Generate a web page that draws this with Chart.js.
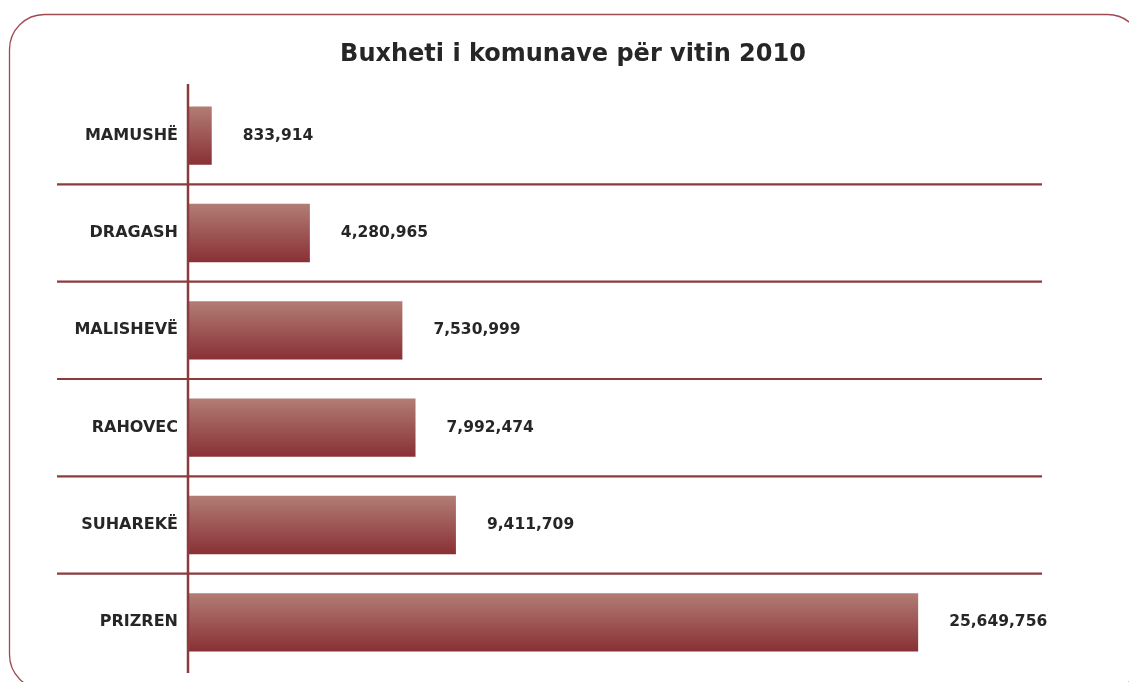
<!DOCTYPE html>
<html>
<head>
<meta charset="utf-8">
<script src="https://cdn.jsdelivr.net/npm/chart.js@4/dist/chart.umd.min.js"></script>
<style>
  html, body { margin: 0; padding: 0; background: #ffffff; overflow: hidden; }
  #wrap { width: 1129px; height: 682px; position: relative; }
</style>
</head>
<body>
<div id="wrap"><canvas id="c"></canvas></div>
<script>
const categories = ["MAMUSHË", "DRAGASH", "MALISHEVË", "RAHOVEC", "SUHAREKË", "PRIZREN"];
const budgetValues = [833914, 4280965, 7530999, 7992474, 9411709, 25649756];
const titleText = "Buxheti i komunave për vitin 2010";

const LINE_COLOR = "#8b3a3e";
const TEXT_COLOR = "#262626";
const FONT = "'DejaVu Sans', sans-serif";
const BAR_FRACTION = 0.6;

const frame = {
  id: "frame",
  beforeDraw(chart) {
    const ctx = chart.ctx;
    ctx.save();
    ctx.strokeStyle = "#9e4a50";
    ctx.lineWidth = 1.3;
    ctx.beginPath();
    ctx.roundRect(9.5, 14.5, 1133, 675, 35);
    ctx.stroke();
    // title
    ctx.fillStyle = TEXT_COLOR;
    ctx.font = "bold 24px " + FONT;
    ctx.textAlign = "center";
    ctx.textBaseline = "middle";
    ctx.fillText(titleText, 573, 55);
    ctx.restore();
  }
};

const gridLines = {
  id: "gridLines",
  afterDatasetsDraw(chart) {
    const ctx = chart.ctx;
    const area = chart.chartArea;
    const y = chart.scales.y;
    const n = categories.length;
    ctx.save();
    ctx.strokeStyle = LINE_COLOR;
    ctx.lineWidth = 2.2;
    for (let i = 0; i < n - 1; i++) {
      const py = (y.getPixelForValue(i) + y.getPixelForValue(i + 1)) / 2;
      ctx.beginPath();
      ctx.moveTo(area.left - 131, py);
      ctx.lineTo(area.right, py);
      ctx.stroke();
    }
    ctx.lineWidth = 2.5;
    ctx.beginPath();
    ctx.moveTo(area.left, area.top - 3);
    ctx.lineTo(area.left, area.bottom + 2);
    ctx.stroke();
    // value labels
    const meta = chart.getDatasetMeta(0);
    ctx.fillStyle = TEXT_COLOR;
    ctx.font = "bold 15.5px " + FONT;
    ctx.textAlign = "left";
    ctx.textBaseline = "middle";
    meta.data.forEach((bar, i) => {
      ctx.fillText(budgetValues[i].toLocaleString("en-US"), bar.x + 31, bar.y);
    });
    ctx.restore();
  }
};

new Chart(document.getElementById("c"), {
  type: "bar",
  data: {
    labels: categories,
    datasets: [{
      data: budgetValues,
      borderWidth: 0,
      categoryPercentage: 1.0,
      barPercentage: BAR_FRACTION,
      backgroundColor(context) {
        const chart = context.chart;
        if (!chart.chartArea) return "#9c5555";
        const ys = chart.scales.y;
        const c = ys.getPixelForValue(context.dataIndex);
        const h = ys.height / categories.length * BAR_FRACTION;
        const g = chart.ctx.createLinearGradient(0, c - h / 2, 0, c + h / 2);
        g.addColorStop(0, "#b27d75");
        g.addColorStop(1, "#893035");
        return g;
      }
    }]
  },
  options: {
    indexAxis: "y",
    responsive: true,
    maintainAspectRatio: false,
    animation: false,
    layout: { padding: { left: 0, right: 87, top: 87, bottom: 11 } },
    plugins: {
      legend: { display: false },
      tooltip: { enabled: false },
      title: { display: false }
    },
    scales: {
      x: {
        display: false,
        min: 0,
        max: 30000000
      },
      y: {
        afterFit(scale) {
          scale.width = 188;
          scale.paddingTop = 0;
          scale.paddingBottom = 0;
        },
        grid: { display: false, drawTicks: false },
        border: { display: false },
        ticks: {
          color: TEXT_COLOR,
          padding: 10,
          font: { family: FONT, size: 16, weight: "bold" }
        }
      }
    }
  },
  plugins: [frame, gridLines]
});
</script>
</body>
</html>
